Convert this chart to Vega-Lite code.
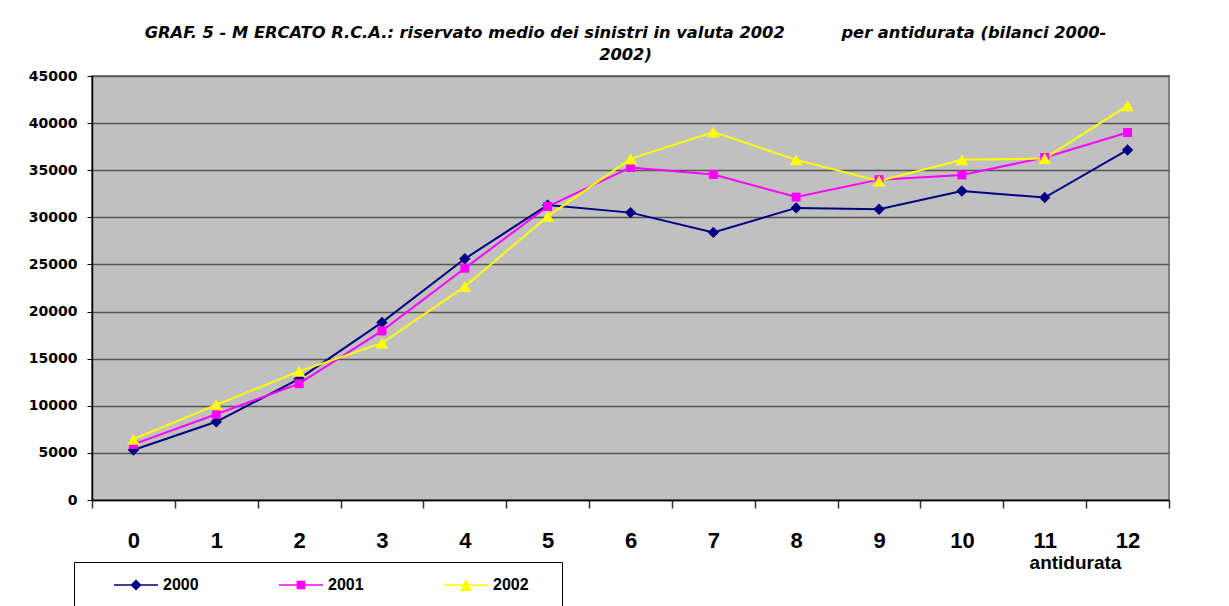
{
  "$schema": "https://vega.github.io/schema/vega-lite/v6.json",
  "autosize": {"type": "none"},
  "width": 1077,
  "height": 424,
  "padding": {"left": 92, "top": 76, "right": 60, "bottom": 106},
  "background": "white",
  "title": {
    "text": ["GRAF. 5 - M ERCATO R.C.A.: riservato medio dei sinistri in valuta 2002\u00a0\u00a0\u00a0\u00a0\u00a0\u00a0\u00a0\u00a0\u00a0\u00a0per antidurata (bilanci 2000-", "2002)"],
    "font": "DejaVu Sans",
    "fontSize": 16.3,
    "fontWeight": "bold",
    "fontStyle": "italic",
    "color": "black",
    "anchor": "middle",
    "frame": "group",
    "dx": -5,
    "lineHeight": 21.5,
    "offset": 6
  },
  "datasets": {
    "d": [
      {"antidurata": "0", "series": "2000", "value": 5300},
      {"antidurata": "1", "series": "2000", "value": 8300},
      {"antidurata": "2", "series": "2000", "value": 12850},
      {"antidurata": "3", "series": "2000", "value": 18850},
      {"antidurata": "4", "series": "2000", "value": 25600},
      {"antidurata": "5", "series": "2000", "value": 31300},
      {"antidurata": "6", "series": "2000", "value": 30500},
      {"antidurata": "7", "series": "2000", "value": 28400},
      {"antidurata": "8", "series": "2000", "value": 31000},
      {"antidurata": "9", "series": "2000", "value": 30850},
      {"antidurata": "10", "series": "2000", "value": 32800},
      {"antidurata": "11", "series": "2000", "value": 32100},
      {"antidurata": "12", "series": "2000", "value": 37150},
      {"antidurata": "0", "series": "2001", "value": 5900},
      {"antidurata": "1", "series": "2001", "value": 9100},
      {"antidurata": "2", "series": "2001", "value": 12350},
      {"antidurata": "3", "series": "2001", "value": 17950},
      {"antidurata": "4", "series": "2001", "value": 24600},
      {"antidurata": "5", "series": "2001", "value": 31150},
      {"antidurata": "6", "series": "2001", "value": 35300},
      {"antidurata": "7", "series": "2001", "value": 34550},
      {"antidurata": "8", "series": "2001", "value": 32150},
      {"antidurata": "9", "series": "2001", "value": 34000},
      {"antidurata": "10", "series": "2001", "value": 34500},
      {"antidurata": "11", "series": "2001", "value": 36350},
      {"antidurata": "12", "series": "2001", "value": 39000},
      {"antidurata": "0", "series": "2002", "value": 6450},
      {"antidurata": "1", "series": "2002", "value": 10100},
      {"antidurata": "2", "series": "2002", "value": 13650},
      {"antidurata": "3", "series": "2002", "value": 16650},
      {"antidurata": "4", "series": "2002", "value": 22650},
      {"antidurata": "5", "series": "2002", "value": 30100},
      {"antidurata": "6", "series": "2002", "value": 36200},
      {"antidurata": "7", "series": "2002", "value": 39050},
      {"antidurata": "8", "series": "2002", "value": 36100},
      {"antidurata": "9", "series": "2002", "value": 33850},
      {"antidurata": "10", "series": "2002", "value": 36100},
      {"antidurata": "11", "series": "2002", "value": 36250},
      {"antidurata": "12", "series": "2002", "value": 41850}
    ]
  },
  "data": {"name": "d"},
  "config": {
    "view": {"fill": "#C0C0C0", "stroke": "#808080", "strokeWidth": 2}
  },
  "layer": [
    {
      "mark": {"type": "line", "strokeWidth": 2},
      "encoding": {
        "x": {
          "field": "antidurata",
          "type": "ordinal",
          "sort": ["0","1","2","3","4","5","6","7","8","9","10","11","12"],
          "scale": {"type": "band", "domain": ["0","1","2","3","4","5","6","7","8","9","10","11","12"], "paddingInner": 0, "paddingOuter": 0},
          "axis": {
            "labelAngle": 0,
            "labelFont": "Liberation Sans",
            "labelFontSize": 22,
            "labelFontWeight": "bold",
            "labelColor": "black",
            "tickBand": "extent",
            "tickSize": 8,
            "tickColor": "#333333",
            "tickWidth": 1.5,
            "labelPadding": 22,
            "domainColor": "black",
            "domainWidth": 1.5,
            "grid": false,
            "title": "antidurata",
            "titleFont": "Liberation Sans",
            "titleFontSize": 19,
            "titleFontWeight": "bold",
            "titleColor": "black",
            "titleX": 983,
            "titleY": 68,
            "titleAlign": "center",
            "titleBaseline": "alphabetic"
          }
        },
        "y": {
          "field": "value",
          "type": "quantitative",
          "scale": {"domain": [0, 45000], "nice": false},
          "axis": {
            "values": [0, 5000, 10000, 15000, 20000, 25000, 30000, 35000, 40000, 45000],
            "format": "d",
            "title": null,
            "labelFont": "DejaVu Sans",
            "labelFontWeight": "bold",
            "labelFontSize": 14,
            "labelColor": "black",
            "tickSize": 5,
            "tickColor": "black",
            "labelPadding": 10,
            "domainColor": "black",
            "domainWidth": 1.5,
            "grid": true,
            "gridColor": "#555555",
            "gridWidth": 1.5
          }
        },
        "color": {
          "field": "series",
          "type": "nominal",
          "title": null,
          "scale": {"domain": ["2000", "2001", "2002"], "range": ["#000080", "#FF00FF", "#FFFF00"]},
          "legend": {
            "orient": "none",
            "legendX": -18,
            "legendY": 486,
            "direction": "horizontal",
            "fillColor": "white",
            "strokeColor": "black",
            "padding": 12,
            "symbolSize": 400,
            "symbolStrokeWidth": 1.5,
            "labelOffset": 55,
            "columnPadding": 52,
            "labelFont": "Liberation Sans",
            "labelFontWeight": "bold",
            "labelFontSize": 16,
            "labelColor": "black",
            "encode": {
              "symbols": {
                "update": {
                  "shape": {"signal": "datum.value === '2000' ? 'M1.7,0L6.1,0M3.9,-0.45L4.35,0L3.9,0.45L3.45,0ZM0,3.2' : datum.value === '2001' ? 'M1.7,0L6.1,0M3.54,-0.36L4.26,-0.36L4.26,0.36L3.54,0.36ZM0,3.2' : 'M1.7,0L6.1,0M3.9,-0.45L4.4,0.55L3.4,0.55ZM12,0M0,3.2'"},
                  "fill": {"scale": "color", "field": "value"},
                  "stroke": {"scale": "color", "field": "value"},
                  "strokeWidth": {"value": 1.5},
                  "opacity": {"value": 1}
                }
              }
            }
          }
        }
      }
    },
    {
      "transform": [{"filter": "datum.series === '2000'"}],
      "mark": {"type": "point", "shape": "diamond", "filled": true, "size": 130, "color": "#000080", "opacity": 1, "strokeWidth": 1},
      "encoding": {
        "x": {"field": "antidurata", "type": "ordinal"},
        "y": {"field": "value", "type": "quantitative"}
      }
    },
    {
      "transform": [{"filter": "datum.series === '2001'"}],
      "mark": {"type": "point", "shape": "square", "filled": true, "size": 80, "color": "#FF00FF", "opacity": 1, "strokeWidth": 1},
      "encoding": {
        "x": {"field": "antidurata", "type": "ordinal"},
        "y": {"field": "value", "type": "quantitative"}
      }
    },
    {
      "transform": [{"filter": "datum.series === '2002'"}],
      "mark": {"type": "point", "shape": "triangle-up", "filled": true, "size": 160, "color": "#FFFF00", "opacity": 1, "strokeWidth": 1},
      "encoding": {
        "x": {"field": "antidurata", "type": "ordinal"},
        "y": {"field": "value", "type": "quantitative"}
      }
    }
  ]
}
